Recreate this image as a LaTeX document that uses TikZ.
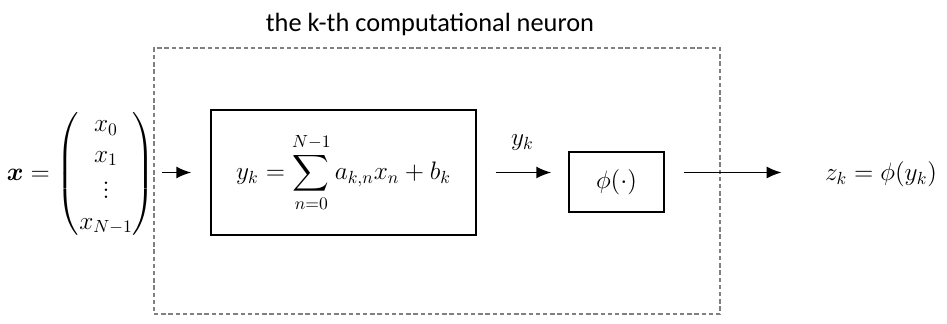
\documentclass[tikz,border=0pt]{standalone}
\usepackage{amsmath,amssymb,bm}
\usepackage{fontspec}
\newfontfamily\titlefont{Carlito}
\usetikzlibrary{positioning,arrows.meta}

\begin{document}
\begin{tikzpicture}[
      x=0.02cm, y=-0.02cm,
      >={Latex[length=3mm,width=2.4mm]},
      eq/.style={inner sep=0pt,font=\fontsize{14.5}{17.5}\selectfont},
      blk/.style={eq,draw,line width=0.8pt},
      cell/.style={draw=gray,line width=0.7pt,dash pattern=on 2.5pt off 1.6pt},
      conn/.style={->,line width=1pt},
    ]
    \useasboundingbox (0,0) rectangle (947,324);
    % dashed frame of the neuron
    \node[cell,minimum width=11.32cm,minimum height=5.32cm] (neuron) at (437,181) {};
    \node[font=\titlefont\fontsize{15}{18}\selectfont] (title) at (430,24) {the k-th computational neuron};
    % blocks
    \node[eq] (vec) at (81,174) {$\bm{x}=\begin{pmatrix}x_0\\ x_1\\ \vdots\\ x_{N-1}\end{pmatrix}$};
    \node[blk,minimum width=5.3cm,minimum height=2.5cm] (sum) at (343.5,172.5)
      {$y_k=\displaystyle\sum_{n=0}^{N-1}a_{k,n}x_n+b_k$};
    \node[blk,minimum width=1.9cm,minimum height=1.2cm] (act) at (616.5,182) {$\phi(\cdot)$};
    \node[eq] (out) at (881,174) {$z_k=\phi(y_k)$};
    % connectors
    \draw[conn,shorten <=0.14cm,shorten >=0.38cm] (vec.east |- sum.west) -- (sum.west);
    \draw[conn,shorten <=0.38cm,shorten >=0.34cm] (sum.east) -- (sum.east -| act.west)
      node[eq,midway,above=0.42cm] {$y_k$};
    \draw[conn,shorten <=0.38cm,shorten >=0.86cm] (act.east |- sum.east) -- (out.west |- sum.east);
  \end{tikzpicture}
\end{document}
